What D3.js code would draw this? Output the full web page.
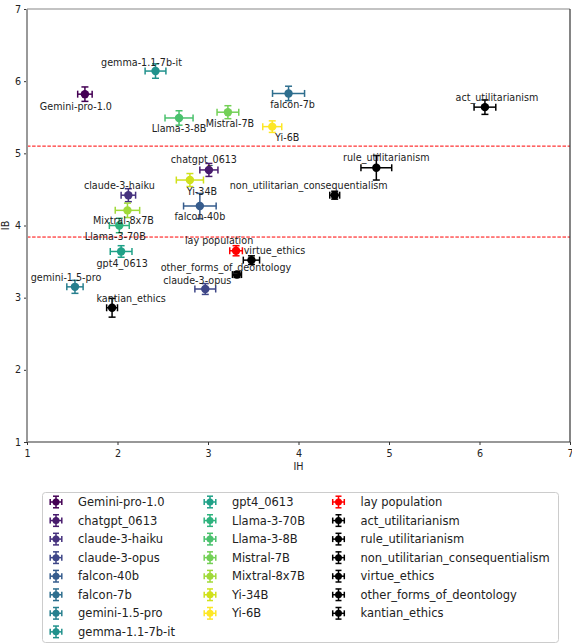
<!DOCTYPE html>
<html>
<head>
<meta charset="utf-8">
<script src="https://cdn.jsdelivr.net/npm/d3@7"></script>
<style>
  body { margin: 0; background: #fff; }
  svg { display: block; font-family: "DejaVu Sans", sans-serif; }
</style>
</head>
<body>
<svg id="chart" width="572" height="644"></svg>
<script>
// ---- data ----
const names = ["Gemini-pro-1.0","chatgpt_0613","claude-3-haiku","claude-3-opus","falcon-40b","falcon-7b","gemini-1.5-pro","gemma-1.1-7b-it","gpt4_0613","Llama-3-70B","Llama-3-8B","Mistral-7B","Mixtral-8x7B","Yi-34B","Yi-6B","lay population","act_utilitarianism","rule_utilitarianism","non_utilitarian_consequentialism","virtue_ethics","other_forms_of_deontology","kantian_ethics"];
const groups = ["model","model","model","model","model","model","model","model","model","model","model","model","model","model","model","lay","ethics","ethics","ethics","ethics","ethics","ethics"];
const ihMean = [1.64,3.01,2.12,2.97,2.91,3.89,1.53,2.42,2.04,2.02,2.68,3.22,2.11,2.80,3.71,3.31,6.06,4.86,4.40,3.48,3.32,1.94];
const ibMean = [5.82,4.77,4.42,3.12,4.27,5.83,3.15,6.14,3.64,4.00,5.49,5.57,4.21,4.63,5.37,3.65,5.64,4.80,4.42,3.52,3.32,2.86];
const ihErr  = [0.08,0.10,0.08,0.115,0.18,0.177,0.09,0.115,0.12,0.11,0.155,0.12,0.135,0.15,0.105,0.07,0.12,0.17,0.055,0.09,0.05,0.06];
const ibErr  = [0.10,0.09,0.09,0.075,0.175,0.10,0.09,0.10,0.08,0.10,0.10,0.09,0.10,0.09,0.08,0.07,0.10,0.17,0.055,0.06,0.04,0.13];
const refLines = [5.10, 3.84];
const xTicks = [1,2,3,4,5,6,7];
const yTicks = [1,2,3,4,5,6,7];

// ---- layout (label offsets in px, relative to the point) ----
const labelOffsets = {
  "Gemini-pro-1.0":[-9,12],"chatgpt_0613":[-5,-10],"claude-3-haiku":[-9,-10],"claude-3-opus":[-8,-9],
  "falcon-40b":[0,10],"falcon-7b":[4,11],"gemini-1.5-pro":[-9,-9],"gemma-1.1-7b-it":[-14,-9],
  "gpt4_0613":[1,12],"Llama-3-70B":[-4,11],"Llama-3-8B":[0,11],"Mistral-7B":[2,11],"Mixtral-8x7B":[-4,10],
  "Yi-34B":[12,11],"Yi-6B":[15,11],"lay population":[-17,-10],"act_utilitarianism":[12,-10],
  "rule_utilitarianism":[10,-10],"non_utilitarian_consequentialism":[-26,-10],"virtue_ethics":[23,-10],
  "other_forms_of_deontology":[-11,-7],"kantian_ethics":[19,-9]
};

const nModels = groups.filter(g => g === "model").length;
function colorOf(i) {
  if (groups[i] === "lay") return "#ff0000";
  if (groups[i] === "ethics") return "#000000";
  return d3.interpolateViridis(i / (nModels - 1));
}

const data = names.map((n, i) => ({name: n, ih: ihMean[i], ib: ibMean[i], ihE: ihErr[i], ibE: ibErr[i], color: colorOf(i)}));

const svg = d3.select("#chart");
const L = 27, R = 570, T = 9, B = 442;
const x = d3.scaleLinear().domain([1,7]).range([L,R]);
const y = d3.scaleLinear().domain([1,7]).range([B,T]);
const fs = 9.6;

// ref lines
svg.selectAll("line.ref").data(refLines).join("line")
  .attr("x1", L).attr("x2", R).attr("y1", d => y(d)).attr("y2", d => y(d))
  .attr("stroke", "#ff0000").attr("stroke-width", 1).attr("stroke-dasharray", "3.5,1.6");

// axes
const xAxis = svg.append("g").attr("transform", `translate(0,${B})`)
  .call(d3.axisBottom(x).tickValues(xTicks).tickFormat(d3.format("d")).tickSize(3).tickSizeOuter(0));
const yAxis = svg.append("g").attr("transform", `translate(${L},0)`)
  .call(d3.axisLeft(y).tickValues(yTicks).tickFormat(d3.format("d")).tickSize(3).tickSizeOuter(0));
[xAxis, yAxis].forEach(g => {
  g.select(".domain").remove();
  g.selectAll("text").attr("font-size", fs).attr("fill", "#222").attr("font-family", "DejaVu Sans");
  g.selectAll("line").attr("stroke", "#333");
});
xAxis.selectAll("text").attr("dy", "0.9em");

// spines
svg.append("line").attr("x1", L).attr("x2", R).attr("y1", T).attr("y2", T).attr("stroke", "#888").attr("stroke-width", 1.2);
svg.append("line").attr("x1", R).attr("x2", R).attr("y1", T).attr("y2", B).attr("stroke", "#333").attr("stroke-width", 1.2);
svg.append("line").attr("x1", L).attr("x2", R).attr("y1", B).attr("y2", B).attr("stroke", "#333").attr("stroke-width", 1.2);
svg.append("line").attr("x1", L).attr("x2", L).attr("y1", T).attr("y2", B).attr("stroke", "#999").attr("stroke-width", 2);

// axis labels
svg.append("text").attr("x", (L+R)/2).attr("y", 470).attr("text-anchor", "middle").attr("font-size", fs).attr("fill", "#222").text("IH");
svg.append("text").attr("transform", `translate(9,${(T+B)/2}) rotate(-90)`).attr("text-anchor", "middle").attr("font-size", fs).attr("fill", "#222").text("IB");

// error bars + points
const cap = 3.5;
const pts = svg.append("g").selectAll("g").data(data).join("g").attr("stroke", d => d.color).attr("stroke-width", 1.5);
pts.append("line").attr("x1", d => x(d.ih - d.ihE)).attr("x2", d => x(d.ih + d.ihE)).attr("y1", d => y(d.ib)).attr("y2", d => y(d.ib));
pts.append("line").attr("x1", d => x(d.ih)).attr("x2", d => x(d.ih)).attr("y1", d => y(d.ib - d.ibE)).attr("y2", d => y(d.ib + d.ibE));
pts.append("line").attr("x1", d => x(d.ih - d.ihE)).attr("x2", d => x(d.ih - d.ihE)).attr("y1", d => y(d.ib) - cap).attr("y2", d => y(d.ib) + cap);
pts.append("line").attr("x1", d => x(d.ih + d.ihE)).attr("x2", d => x(d.ih + d.ihE)).attr("y1", d => y(d.ib) - cap).attr("y2", d => y(d.ib) + cap);
pts.append("line").attr("y1", d => y(d.ib - d.ibE)).attr("y2", d => y(d.ib - d.ibE)).attr("x1", d => x(d.ih) - cap).attr("x2", d => x(d.ih) + cap);
pts.append("line").attr("y1", d => y(d.ib + d.ibE)).attr("y2", d => y(d.ib + d.ibE)).attr("x1", d => x(d.ih) - cap).attr("x2", d => x(d.ih) + cap);
pts.append("circle").attr("cx", d => x(d.ih)).attr("cy", d => y(d.ib)).attr("r", 4.2).attr("fill", d => d.color).attr("stroke", "none");

// labels
svg.append("g").selectAll("text").data(data).join("text")
  .attr("x", d => x(d.ih) + labelOffsets[d.name][0])
  .attr("y", d => y(d.ib) + labelOffsets[d.name][1])
  .attr("text-anchor", "middle").attr("dominant-baseline", "central")
  .attr("font-size", fs).attr("fill", "#222").text(d => d.name);

// legend
const lg = svg.append("g");
lg.append("rect").attr("x", 42.5).attr("y", 492.5).attr("width", 516).attr("height", 150).attr("rx", 3)
  .attr("fill", "#fff").attr("stroke", "#ccc").attr("stroke-width", 1);
const nRows = 8;
const colX = [56, 210, 338.5];
const colOrder = [];
// matplotlib column fill: first column 8, others 7
const colSizes = [8, 7, 7];
let idx = 0;
colSizes.forEach((n, c) => { for (let r = 0; r < n; r++) colOrder.push({i: idx++, c, r}); });
const items = lg.selectAll("g.item").data(colOrder).join("g")
  .attr("transform", d => `translate(${colX[d.c]},${502 + d.r * 18.55})`);
const h = 5.8, lc = 3;
items.each(function(d) {
  const g = d3.select(this).attr("stroke", data[d.i].color).attr("stroke-width", 1.5);
  g.append("line").attr("x1", -h).attr("x2", h);
  g.append("line").attr("y1", -h).attr("y2", h);
  g.append("line").attr("x1", -h).attr("x2", -h).attr("y1", -lc).attr("y2", lc);
  g.append("line").attr("x1", h).attr("x2", h).attr("y1", -lc).attr("y2", lc);
  g.append("line").attr("y1", -h).attr("y2", -h).attr("x1", -lc).attr("x2", lc);
  g.append("line").attr("y1", h).attr("y2", h).attr("x1", -lc).attr("x2", lc);
  g.append("circle").attr("r", 3.5).attr("fill", data[d.i].color).attr("stroke", "none");
  g.append("text").attr("x", 22).attr("dominant-baseline", "central").attr("font-size", 11.5)
    .attr("fill", "#222").attr("stroke", "none").text(data[d.i].name);
});
</script>
</body>
</html>
